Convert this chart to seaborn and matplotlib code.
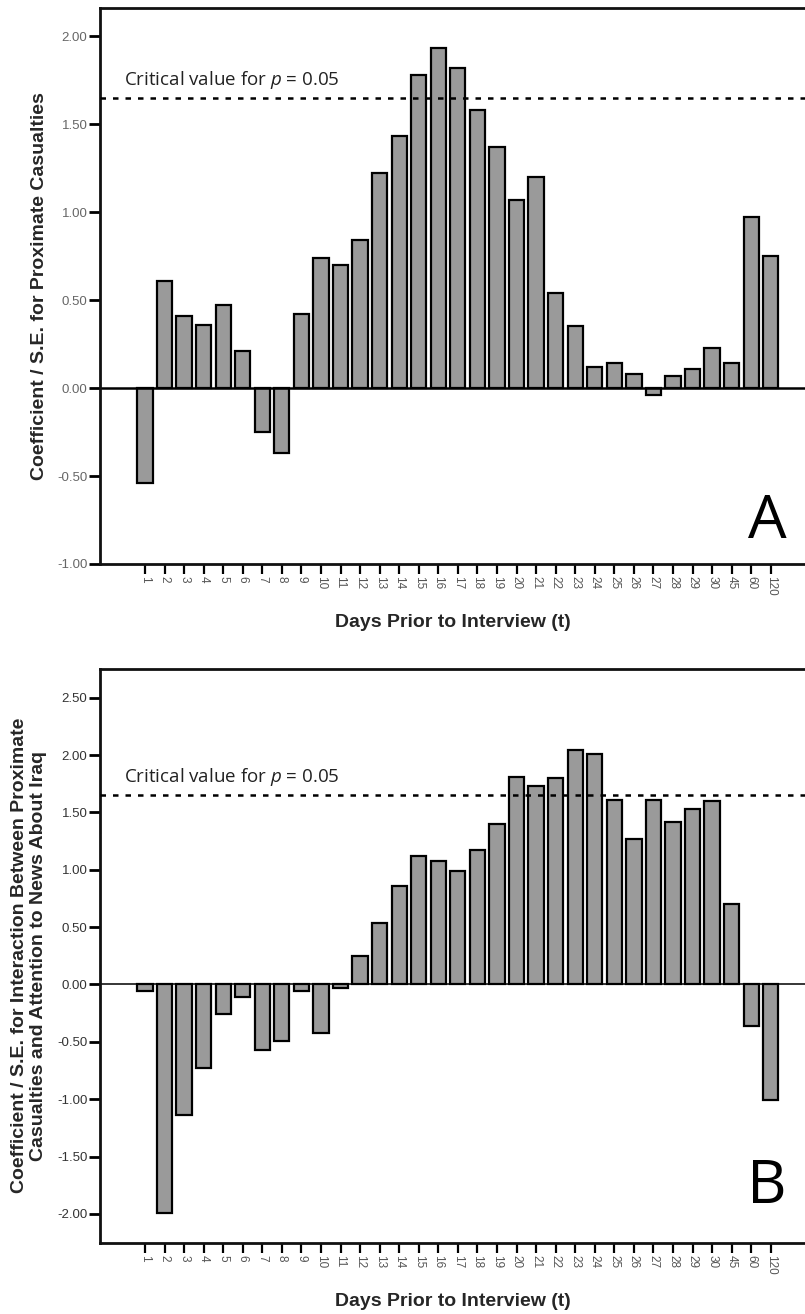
import numpy as np
import pandas as pd
import matplotlib
matplotlib.use("Agg")
import matplotlib.pyplot as plt
from matplotlib.ticker import FormatStrFormatter
import seaborn as sns

sns.set_theme(style="white")
plt.rcParams['font.family'] = ['Liberation Sans', 'DejaVu Sans']
plt.rcParams['mathtext.fontset'] = 'custom'
plt.rcParams['mathtext.it'] = 'Open Sans:italic'
plt.rcParams['mathtext.rm'] = 'Open Sans'

# data
days = ['1', '2', '3', '4', '5', '6', '7', '8', '9', '10', '11', '12', '13', '14',
        '15', '16', '17', '18', '19', '20', '21', '22', '23', '24', '25', '26', '27',
        '28', '29', '30', '45', '60', '120']

proximate = [-0.54, 0.61, 0.41, 0.36, 0.47, 0.21, -0.25, -0.37, 0.42, 0.74, 0.70,
             0.84, 1.22, 1.43, 1.78, 1.93, 1.82, 1.58, 1.37, 1.07, 1.20, 0.54, 0.35,
             0.12, 0.14, 0.08, -0.04, 0.07, 0.11, 0.23, 0.14, 0.97, 0.75]

interaction = [-0.06, -1.99, -1.14, -0.73, -0.26, -0.11, -0.57, -0.49, -0.06, -0.42,
               -0.03, 0.25, 0.54, 0.86, 1.12, 1.08, 0.99, 1.17, 1.40, 1.81, 1.73,
               1.80, 2.04, 2.01, 1.61, 1.27, 1.61, 1.42, 1.53, 1.60, 0.70, -0.36, -1.01]

critical = 1.65

df_a = pd.DataFrame({'day': days, 'value': proximate})
df_b = pd.DataFrame({'day': days, 'value': interaction})

fig = plt.figure(figsize=(8.05, 13.14), dpi=100)
ax_a = fig.add_axes([0.1242, 0.5708, 0.8758, 0.4231])
ax_b = fig.add_axes([0.1242, 0.0543, 0.8758, 0.4366])

panels = [
    (ax_a, df_a, (-1.0, 2.16), np.arange(-1.0, 2.01, 0.5), 'A',
     'Coefficient / S.E. for Proximate Casualties', '#666666', 522, -0.0851, 1.8),
    (ax_b, df_b, (-2.25, 2.75), np.arange(-2.0, 2.51, 0.5), 'B',
     'Coefficient / S.E. for Interaction Between Proximate\nCasualties and Attention to News About Iraq',
     '#333333', 1187, -0.1007, 1.1),
]

for ax, d, ylim, yticks, letter, ylab, tickcol, letter_y, ylab_x, zero_lw in panels:
    sns.barplot(data=d, x='day', y='value', order=days, color='#9a9a9a',
                saturation=1, edgecolor='black', linewidth=1.6, width=0.78, ax=ax)
    ax.set_xlim(-2.3, len(days) - 1 + 1.75)
    ax.set_ylim(*ylim)
    ax.set_yticks(yticks)
    ax.yaxis.set_major_formatter(FormatStrFormatter('%.2f'))
    ax.axhline(0, color='black', lw=zero_lw, zorder=1)
    ax.axhline(critical, color='black', lw=1.8, ls=(0, (2.2, 2.8)), zorder=3)
    ax.annotate('Critical value for $p$ = 0.05', xy=(-1.05, critical),
                xytext=(0, 13), textcoords='offset pixels',
                fontsize=13.5, family='Open Sans', va='baseline', ha='left',
                color='#222222')
    for s in ['left', 'bottom', 'top']:
        ax.spines[s].set_linewidth(2)
        ax.spines[s].set_color('#111111')
    ax.spines['right'].set_visible(False)
    ax.tick_params(axis='y', which='major', direction='out', length=8, width=2,
                   color='black', labelsize=9.5, labelcolor=tickcol, left=True, pad=1)
    ax.tick_params(axis='x', which='major', direction='out', length=7, width=1.6,
                   color='black', labelsize=8.5, labelcolor='#555555', bottom=True, pad=2)
    for lbl in ax.get_xticklabels():
        lbl.set_rotation(-90)
    ax.set_ylabel(ylab, fontsize=14, fontweight='bold', linespacing=1.12)
    ax.yaxis.set_label_coords(ylab_x, 0.5)
    ax.yaxis.label.set_va('center')
    ax.set_xlabel('Days Prior to Interview (t)', fontsize=14, fontweight='bold', labelpad=13)
    ax.grid(False)
    # panel letter
    fig.text(767 / 805, 1 - letter_y / 1314, letter, fontsize=44, family='Open Sans',
             ha='center', va='center', color='black')

fig.savefig('out.png', dpi=100)
